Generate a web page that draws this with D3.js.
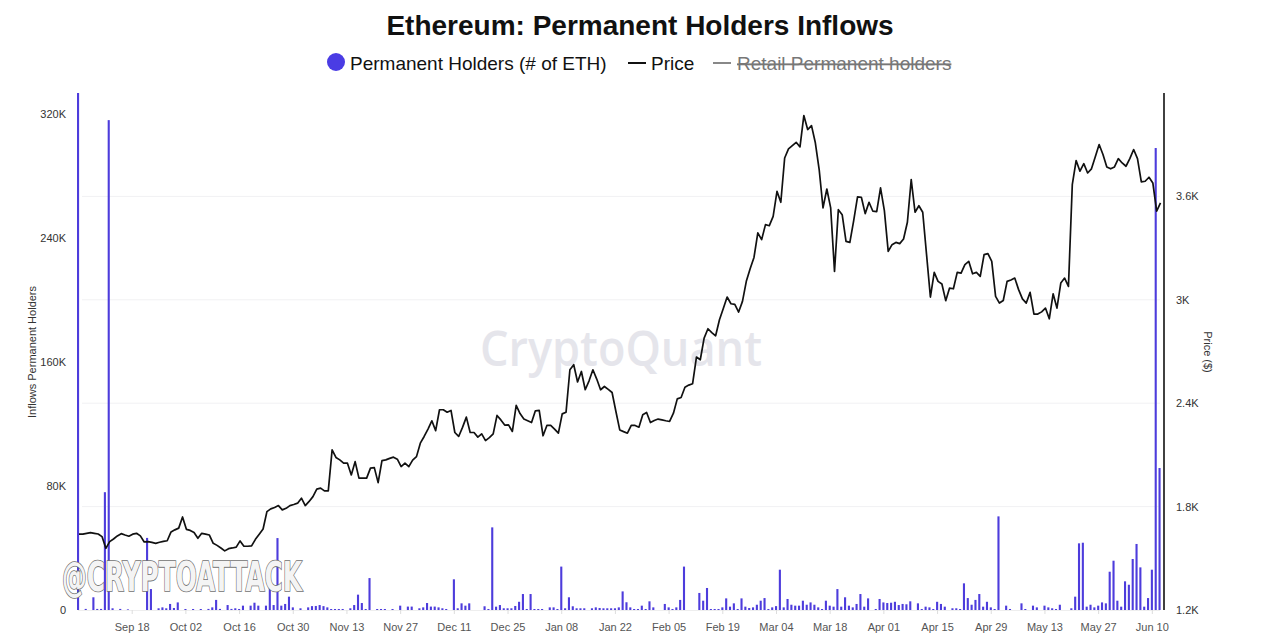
<!DOCTYPE html>
<html>
<head>
<meta charset="utf-8">
<script src="https://cdn.jsdelivr.net/npm/d3@7"></script>
<style>
html,body{margin:0;padding:0;background:#fff;}
svg{display:block;font-family:"Liberation Sans",Arial,Helvetica,sans-serif;}
</style>
</head>
<body>
<svg id="chart" width="1280" height="634"></svg>
<script>
// ---------- DATA ----------
const startDate = "2023-09-04"; // first daily observation
const inflows = [
340000,0,700,0,8200,700,700,76000,316000,1100,
0,700,0,400,0,0,0,0,46500,13500,
0,1100,1700,1100,3900,1300,4900,0,650,0,
650,0,650,0,700,1700,6500,700,0,3200,
700,1100,650,2800,0,2800,4700,2800,0,2800,
20000,3200,46400,2800,3900,8600,1700,0,1100,0,
1700,2500,2600,3200,2500,1700,650,650,650,650,
0,1100,3200,9900,4500,650,20600,0,650,650,
650,0,650,0,2800,0,2200,2200,0,1100,
1700,4500,2200,2200,1700,1100,650,0,19800,1100,
4300,2800,4300,0,0,0,2400,650,53300,2150,
3200,1100,1100,1100,2600,5300,10300,650,10300,650,
650,650,0,1700,1700,650,28000,1100,8200,2400,
1100,1100,1100,0,1100,1700,1300,1100,1100,1100,
1100,1700,12000,5000,1700,650,650,2800,650,5600,
1700,0,0,3900,1700,650,1700,6500,28000,0,
0,0,11000,6000,14200,650,650,650,1700,7500,
2150,4300,650,7500,2150,1300,1700,3400,6000,7700,
650,1700,2500,26000,1700,7100,3400,2800,2800,6000,
3400,4900,3400,1700,650,6000,2800,2150,13500,2150,
8200,2800,1700,3900,10300,2150,7500,0,650,7100,
4900,4500,4700,5300,3200,3900,3700,5600,0,4300,
650,2150,1700,650,5300,3900,2150,0,1100,1100,
650,17200,7700,3400,6500,10300,2150,5300,1700,650,
60400,0,2800,650,0,0,4300,650,0,2800,
1700,0,2800,1700,1100,650,3400,0,0,1100,
8600,43000,43400,2150,3400,1700,2800,4900,4300,24700,
31800,6000,2150,18500,16300,32900,42600,27500,2150,7700,
26000,298000,91600
];
const price = [
1640,1640,1645,1649,1645,1641,1626,1558,1597,1612,
1630,1643,1635,1628,1640,1645,1630,1595,1597,1592,
1587,1593,1598,1602,1653,1665,1675,1740,1668,1662,
1650,1616,1645,1640,1635,1587,1575,1560,1543,1556,
1560,1565,1601,1570,1570,1572,1610,1640,1670,1771,
1787,1795,1806,1781,1790,1806,1812,1820,1849,1806,
1830,1858,1901,1907,1891,1891,2129,2085,2071,2052,
2052,1984,2061,1965,1965,1965,2023,2026,1939,2067,
2071,2080,2087,2075,2032,2052,2032,2070,2090,2168,
2207,2250,2298,2241,2362,2362,2348,2358,2230,2207,
2260,2319,2230,2230,2203,2222,2183,2200,2222,2329,
2303,2273,2274,2236,2387,2340,2308,2298,2288,2356,
2358,2211,2271,2271,2250,2226,2338,2348,2594,2623,
2523,2584,2478,2530,2594,2540,2478,2497,2480,2462,
2352,2245,2235,2226,2271,2271,2261,2333,2346,2288,
2300,2308,2303,2298,2294,2342,2425,2433,2493,2505,
2513,2668,2652,2778,2832,2810,2791,2884,2950,3016,
2977,2973,2929,2991,3107,3180,3246,3388,3349,3436,
3430,3484,3629,3566,3823,3876,3895,3914,3887,4069,
3988,4011,3911,3756,3533,3643,3533,3165,3523,3494,
3339,3333,3460,3597,3595,3500,3566,3514,3512,3649,
3517,3281,3320,3333,3326,3353,3450,3697,3508,3546,
3508,3262,3016,3159,3107,3092,2995,3068,3064,3159,
3155,3204,3223,3151,3159,3136,3262,3268,3223,3020,
2981,2996,3107,3115,3126,3059,3005,2981,3043,2917,
2917,2930,2952,2890,3035,2952,3097,3126,3078,3668,
3808,3746,3790,3736,3760,3830,3901,3843,3771,3760,
3771,3819,3794,3775,3819,3872,3819,3684,3688,3711,
3678,3514,3562
];
const xTickDates = ["2023-09-18","2023-10-02","2023-10-16","2023-10-30","2023-11-13","2023-11-27",
  "2023-12-11","2023-12-25","2024-01-08","2024-01-22","2024-02-05","2024-02-19","2024-03-04",
  "2024-03-18","2024-04-01","2024-04-15","2024-04-29","2024-05-13","2024-05-27","2024-06-10"];
const leftTicks = [0, 80000, 160000, 240000, 320000];
const leftTickLabels = ["0","80K","160K","240K","320K"];
const rightTicks = [1200, 1800, 2400, 3000, 3600];
const rightTickLabels = ["1.2K","1.8K","2.4K","3K","3.6K"];

// ---------- CHART ----------
const svg = d3.select("#chart");
const W = 1280, H = 634;
const plot = {left: 78, right: 1164, top: 93, bottom: 610};
const BAR = "#4d3cdc";

const parse = d3.utcParse("%Y-%m-%d");
const d0 = parse(startDate);
const dates = price.map((_, i) => d3.utcDay.offset(d0, i));

const x = d3.scaleUtc()
  .domain([d0, d3.utcDay.offset(d0, 282)])
  .range([78, 1159.5]);
const yL = d3.scaleLinear().domain([0, 333500]).range([plot.bottom, plot.top]);
const yR = d3.scaleLinear().domain([1200, 4200]).range([plot.bottom, plot.top]);

svg.append("rect").attr("width", W).attr("height", H).attr("fill", "#fff");

// clip
svg.append("defs").append("clipPath").attr("id", "clip")
  .append("rect").attr("x", 60).attr("y", plot.top).attr("width", plot.right - 60).attr("height", plot.bottom - plot.top);

// gridlines (right axis ticks)
svg.append("g").selectAll("line").data(rightTicks.slice(1)).join("line")
  .attr("x1", 82).attr("x2", 1160)
  .attr("y1", d => yR(d)).attr("y2", d => yR(d))
  .attr("stroke", "#f1f1f3").attr("stroke-width", 1);

// CryptoQuant watermark
svg.append("text").attr("x", 621).attr("y", 366).attr("text-anchor", "middle")
  .attr("font-size", 48).attr("font-weight", 600).attr("font-family", "'Open Sans', Lato, sans-serif")
  .attr("textLength", 282).attr("lengthAdjust", "spacingAndGlyphs")
  .attr("fill", "#e5e5eb").text("CryptoQuant");

// baseline
svg.append("line").attr("x1", 78).attr("x2", 1160).attr("y1", plot.bottom + 0.5).attr("y2", plot.bottom + 0.5)
  .attr("stroke", "#eeeeee");

// bars
const gBars = svg.append("g").attr("clip-path", "url(#clip)");
gBars.selectAll("rect").data(inflows.map((v, i) => ({d: dates[i], v})).filter(o => o.v > 0)).join("rect")
  .attr("x", o => x(o.d) - 1)
  .attr("width", 2.1)
  .attr("y", o => yL(Math.min(o.v, 345000)))
  .attr("height", o => plot.bottom - yL(Math.min(o.v, 345000)))
  .attr("fill", BAR);

// price line
svg.append("path")
  .datum(price.map((p, i) => ({d: dates[i], p})))
  .attr("fill", "none").attr("stroke", "#111").attr("stroke-width", 1.7)
  .attr("stroke-linejoin", "round")
  .attr("d", d3.line().x(o => x(o.d) + 1).y(o => yR(o.p)));

// right axis line
svg.append("line").attr("x1", plot.right).attr("x2", plot.right)
  .attr("y1", plot.top).attr("y2", plot.bottom).attr("stroke", "#111").attr("stroke-width", 1.6);

// x axis
const xAxis = d3.axisBottom(x)
  .tickValues(xTickDates.map(parse))
  .tickFormat(d3.utcFormat("%b %d"))
  .tickSize(4).tickPadding(9);
const gx = svg.append("g").attr("transform", `translate(0,${plot.bottom})`).call(xAxis);
gx.select(".domain").remove();
gx.selectAll(".tick line").attr("stroke", "#dddddd");
gx.selectAll(".tick text").attr("fill", "#555").attr("font-size", 11)
  .attr("font-family", "'Liberation Sans', Arial, sans-serif");

// left axis
const gl = svg.append("g");
gl.selectAll("text").data(leftTicks).join("text")
  .attr("x", 66).attr("y", d => yL(d) + 4).attr("text-anchor", "end")
  .attr("font-size", 11).attr("fill", "#333")
  .text((d, i) => leftTickLabels[i]);
svg.append("text").attr("transform", "translate(36,352) rotate(-90)")
  .attr("text-anchor", "middle").attr("font-size", 11).attr("fill", "#333")
  .text("Inflows Permanent Holders");

// right axis
const gr = svg.append("g");
gr.selectAll("text").data(rightTicks).join("text")
  .attr("x", 1176).attr("y", d => yR(d) + 4).attr("text-anchor", "start")
  .attr("font-size", 11).attr("fill", "#333")
  .text((d, i) => rightTickLabels[i]);
svg.append("text").attr("transform", "translate(1204,352) rotate(90)")
  .attr("text-anchor", "middle").attr("font-size", 11).attr("fill", "#333")
  .text("Price ($)");

// title
svg.append("text").attr("x", 640).attr("y", 35).attr("text-anchor", "middle")
  .attr("font-size", 28).attr("font-weight", "bold").attr("fill", "#111")
  .text("Ethereum: Permanent Holders Inflows");

// legend
const lg = svg.append("g").attr("font-size", 19);
lg.append("circle").attr("cx", 336).attr("cy", 62).attr("r", 9).attr("fill", "#4a3ce4");
lg.append("text").attr("x", 350).attr("y", 70).attr("fill", "#111").text("Permanent Holders (# of ETH)");
lg.append("line").attr("x1", 628).attr("x2", 646).attr("y1", 63).attr("y2", 63).attr("stroke", "#111").attr("stroke-width", 2);
lg.append("text").attr("x", 651).attr("y", 70).attr("fill", "#111").text("Price");
lg.append("line").attr("x1", 713).attr("x2", 731).attr("y1", 63).attr("y2", 63).attr("stroke", "#888").attr("stroke-width", 2);
lg.append("text").attr("x", 737).attr("y", 70).attr("fill", "#777")
  .attr("text-decoration", "line-through").text("Retail Permanent holders");

// @CRYPTOATTACK watermark
svg.append("text").attr("x", 62).attr("y", 591)
  .attr("font-size", 40).attr("font-weight", "bold")
  .attr("font-family", "'Liberation Sans Narrow', 'DejaVu Sans Condensed', sans-serif")
  .attr("textLength", 240).attr("lengthAdjust", "spacingAndGlyphs")
  .attr("fill", "#f4f4f4").attr("stroke", "#6f6f6f").attr("stroke-width", 1.6)
  .attr("paint-order", "stroke")
  .text("@CRYPTOATTACK");
</script>
</body>
</html>
